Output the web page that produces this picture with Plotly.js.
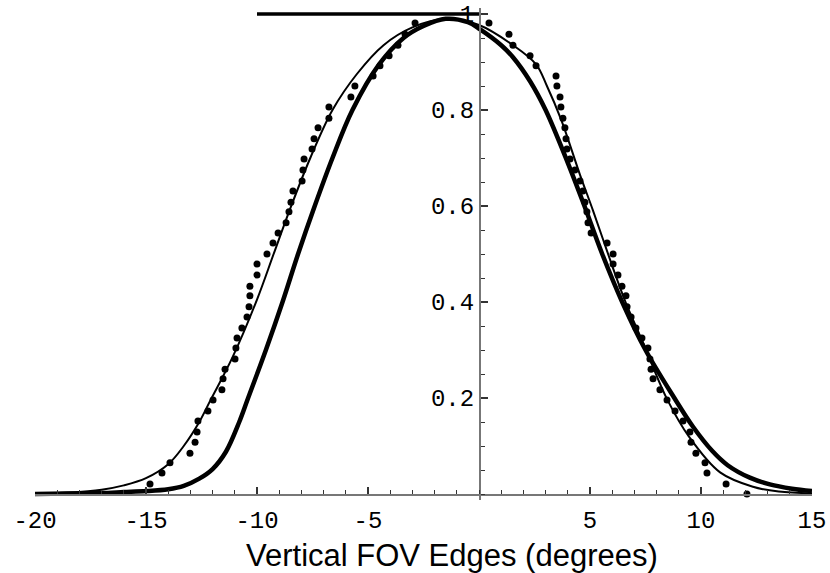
<!DOCTYPE html>
<html>
<head>
<meta charset="utf-8">
<script src="https://cdn.plot.ly/plotly-3.0.1.min.js"></script>
<style>html,body{margin:0;padding:0;background:#fff;}#chart{width:830px;height:573px;}</style>
</head>
<body>
<div id="chart"></div>
<script>
// Thin model curve
const thinX = [-20, -18.5, -17, -16, -15, -14, -13.3, -12.6, -12.1, -11.1, -10.0, -9.25, -8.5, -7.6, -6.6, -5.5, -4.3, -3.0, -1.5, 0, 1.53, 2.57, 3.06, 3.7, 4.55, 5.14, 6.04, 6.6, 7.25, 7.7, 8.5, 9.45, 10.86, 12.34, 13.5, 15];
const thinY = [0.0005, 0.003, 0.009, 0.018, 0.033, 0.062, 0.1, 0.15, 0.195, 0.285, 0.405, 0.5, 0.595, 0.7, 0.8, 0.875, 0.935, 0.972, 0.99, 0.977, 0.935, 0.895, 0.85, 0.78, 0.665, 0.59, 0.47, 0.4, 0.33, 0.28, 0.195, 0.12, 0.045, 0.015, 0.005, 0.001];

// Thick model curve
const thickX = [-20, -18.5, -17, -16, -15, -14, -13.3, -12.6, -12.0, -11.4, -10.8, -10.4, -9.6, -8.85, -8.15, -7.4, -6.6, -5.7, -4.5, -3.4, -2.5, -1.5, -0.5, 0.05, 1.0, 1.53, 2.3, 3.0, 4.0, 4.75, 5.55, 6.45, 7.5, 8.8, 9.64, 10.5, 11.2, 12.2, 13.1, 14.1, 15];
const thickY = [0.0, 0.001, 0.002, 0.004, 0.006, 0.01, 0.017, 0.032, 0.052, 0.088, 0.15, 0.2, 0.3, 0.4, 0.5, 0.6, 0.7, 0.8, 0.895, 0.95, 0.975, 0.99, 0.983, 0.968, 0.935, 0.91, 0.86, 0.8, 0.69, 0.6, 0.5, 0.4, 0.3, 0.2, 0.14, 0.09, 0.06, 0.034, 0.02, 0.011, 0.006];

// Top horizontal reference line
const topX = [-10, 0];
const topY = [1.0, 1.0];

// Measured edge points (dots)
const dotLevels = [0.021, 0.044, 0.065, 0.085, 0.108, 0.129, 0.152, 0.173, 0.196, 0.217,
  0.240, 0.260, 0.281, 0.304, 0.325, 0.346, 0.369, 0.390, 0.413, 0.433,
  0.456, 0.479, 0.500, 0.523, 0.544, 0.565, 0.588, 0.608, 0.631, 0.652,
  0.675, 0.698, 0.719, 0.740, 0.763, 0.783, 0.806, 0.827, 0.850, 0.871,
  0.892, 0.913, 0.935, 0.958, 0.981];
const leftEdgeX = [-14.82, -14.28, -13.92, -13.02, -12.79, -12.70, -12.66, -12.21, -11.98, -11.58,
  -11.53, -11.44, -10.99, -10.95, -10.90, -10.68, -10.45, -10.36, -10.32, -10.32,
  -10.00, -10.00, -9.55, -9.28, -9.05, -8.69, -8.56, -8.47, -8.38, -7.97,
  -7.93, -7.88, -7.52, -7.43, -7.25, -6.76, -6.76, -5.77, -5.59, -4.77,
  -4.46, -4.05, -3.65, -3.33, -2.88];
const rightEdgeX = [11.13, 10.27, 10.18, 9.77, 9.55, 9.50, 9.19, 8.83, 8.47, 8.15,
  7.84, 7.75, 7.70, 7.61, 7.34, 7.07, 6.85, 6.67, 6.62, 6.44,
  6.26, 6.04, 6.04, 5.77, 5.05, 4.91, 4.86, 4.77, 4.68, 4.55,
  4.32, 4.10, 3.96, 3.92, 3.87, 3.78, 3.69, 3.65, 3.51, 3.47,
  2.57, 2.30, 1.53, 1.35, 0.45];
const extraDotX = [12.07];
const extraDotY = [0.0];

// Tick labels
const xTickVals = [-20, -15, -10, -5, 5, 10, 15];
const xTickText = ['-20', '-15', '-10', '-5', '5', '10', '15'];
const yTickVals = [0.2, 0.4, 0.6, 0.8, 1];
const yTickText = ['0.2', '0.4', '0.6', '0.8', '1'];
const xTitle = 'Vertical FOV Edges (degrees)';

const dotsX = leftEdgeX.concat(rightEdgeX, extraDotX);
const dotsY = dotLevels.concat(dotLevels, extraDotY);

const xRange = [-20, 15];
const yRange = [-0.0125, 1.0125];

const traces = [
  {x: topX, y: topY, mode: 'lines', line: {color: '#000', width: 3.5}, hoverinfo: 'skip'},
  {x: thinX, y: thinY, mode: 'lines', line: {color: '#000', width: 2, shape: 'spline', smoothing: 1}},
  {x: thickX, y: thickY, mode: 'lines', line: {color: '#000', width: 4.5, shape: 'spline', smoothing: 1}},
  {x: dotsX, y: dotsY, mode: 'markers', marker: {color: '#000', size: 7}, cliponaxis: false}
];

const tickFont = {family: 'Liberation Mono, Courier New, monospace', size: 24, color: '#000'};

const layout = {
  width: 830, height: 573,
  margin: {l: 35, r: 18, t: 8, b: 73, pad: 0},
  paper_bgcolor: '#fff', plot_bgcolor: '#fff',
  showlegend: false,
  xaxis: {
    range: xRange, anchor: 'free', position: (0 - yRange[0]) / (yRange[1] - yRange[0]),
    showline: true, linecolor: '#777', linewidth: 1.5,
    showgrid: false, zeroline: false,
    tickmode: 'array', tickvals: xTickVals, ticktext: xTickText,
    ticks: 'inside', ticklen: 7, tickwidth: 1.2, tickcolor: '#333',
    tickfont: tickFont, ticklabelstandoff: 4,
    minor: {tickmode: 'linear', tick0: 0, dtick: 1, ticks: 'inside', ticklen: 4, tickwidth: 1, tickcolor: '#333', showgrid: false}
  },
  yaxis: {
    range: yRange, anchor: 'free', position: (0 - xRange[0]) / (xRange[1] - xRange[0]),
    showline: true, linecolor: '#777', linewidth: 1.5,
    showgrid: false, zeroline: false,
    tickmode: 'array', tickvals: yTickVals, ticktext: yTickText,
    ticks: 'inside', ticklen: 7, tickwidth: 1.2, tickcolor: '#333',
    tickfont: tickFont,
    minor: {tickmode: 'linear', tick0: 0, dtick: 0.05, ticks: 'inside', ticklen: 4, tickwidth: 1, tickcolor: '#333', showgrid: false}
  },
  annotations: [{
    text: xTitle, xref: 'paper', yref: 'paper', x: 0.5367, y: -0.1118,
    xanchor: 'center', yanchor: 'middle', showarrow: false,
    font: {family: 'Liberation Sans, Arial, sans-serif', size: 31, color: '#000'}
  }]
};

Plotly.newPlot('chart', traces, layout, {staticPlot: true, displayModeBar: false});
</script>
</body>
</html>
